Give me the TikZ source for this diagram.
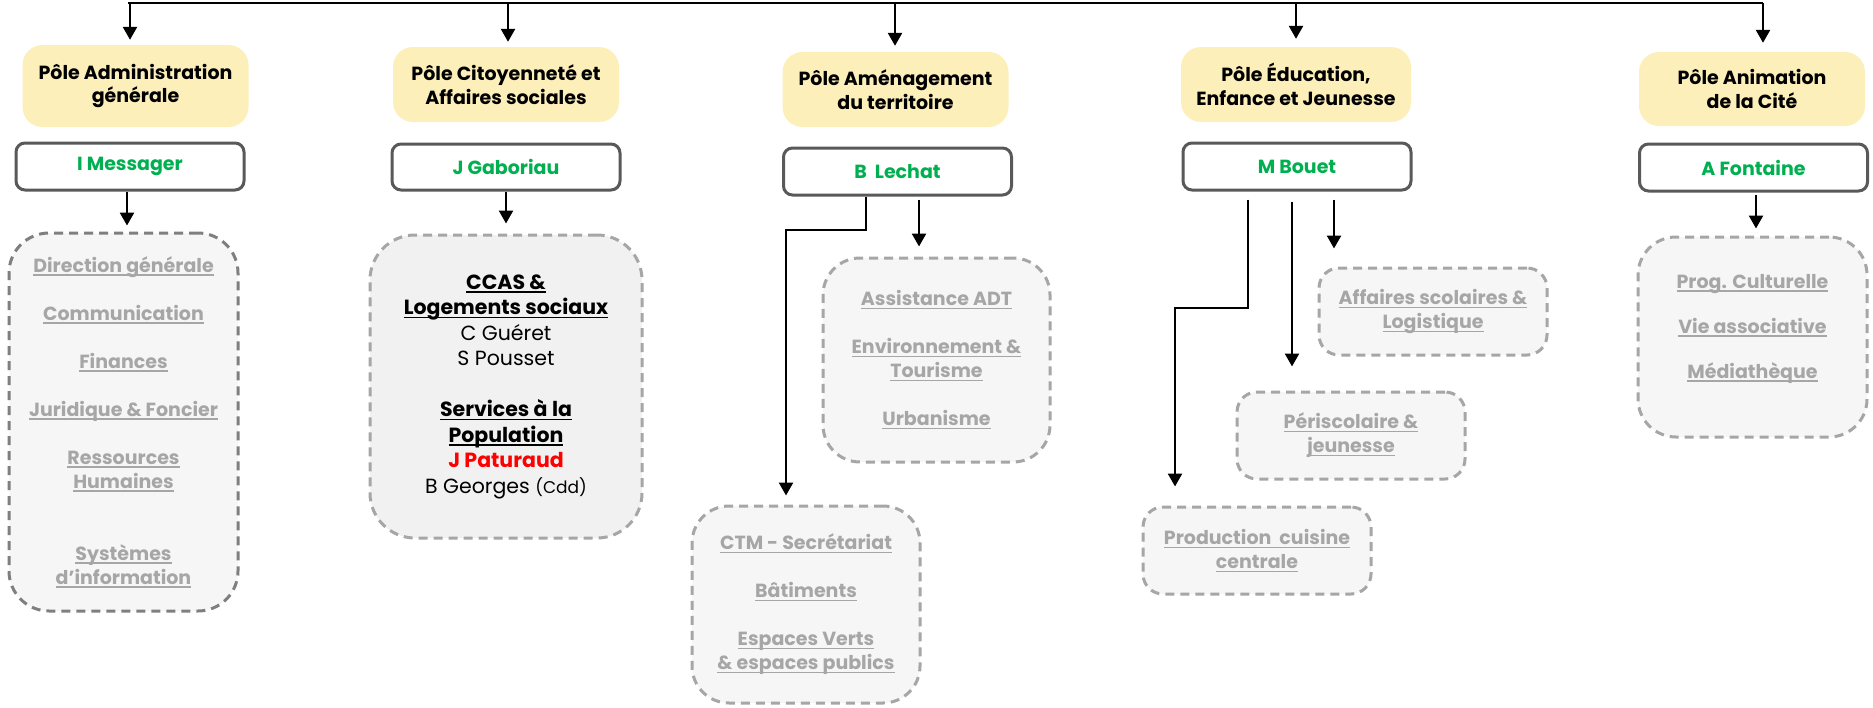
\documentclass[tikz,border=0pt]{standalone}
\usepackage{fontspec}
\setmainfont{Poppins}
\usetikzlibrary{arrows.meta}
\definecolor{polefill}{HTML}{FCEFBA}
\definecolor{nameborder}{HTML}{595959}
\definecolor{nmgreen}{HTML}{00B050}
\definecolor{itemgray}{HTML}{A6A6A6}
\definecolor{boxfill}{HTML}{F6F6F6}
\definecolor{ccasfill}{HTML}{F1F1F1}
\definecolor{dborder}{HTML}{A6A6A6}
\definecolor{dborderdark}{HTML}{7F7F7F}
\definecolor{rname}{HTML}{FF0000}
\newsavebox\ulbox
\newcommand\ulx[1]{\sbox\ulbox{#1}\rlap{\rule[-3.5pt]{\wd\ulbox}{1.3pt}}\usebox\ulbox}
\tikzset{
  polebox/.style={fill=polefill, rounded corners=20pt, minimum width=226pt, align=center,
    font=\fontsize{19}{24}\selectfont\bfseries, inner sep=0pt},
  namebox/.style={draw=nameborder, line width=3pt, fill=white, rounded corners=9pt,
    minimum width=228pt, minimum height=46pt, font=\fontsize{19}{24}\selectfont\bfseries,
    text=nmgreen, inner sep=0pt},
  dbox/.style={draw=dborder, fill=boxfill, line width=3pt, dash pattern=on 9pt off 6pt,
    align=center, font=\fontsize{19}{24}\selectfont\bfseries, text=itemgray, inner sep=0pt},
  arr/.style={-{Triangle[length=13pt,width=14pt]}, line width=2.5pt},
  topline/.style={line width=2.5pt}
}
\begin{document}
\begin{tikzpicture}[x=1pt,y=-1pt]
\useasboundingbox (0,0) rectangle (1873,707);

% pole boxes
\node[polebox, minimum height=82pt] (p1) at (135.5,86) {Pôle Administration\\générale};
\node[polebox, minimum height=75pt] (p2) at (506,84.5) {Pôle Citoyenneté et\\Affaires sociales};
\node[polebox, minimum height=75pt] (p3) at (895.5,89.5) {Pôle Aménagement\\du territoire};
\node[polebox, minimum height=75pt, minimum width=230pt] (p4) at (1296,84.5) {Pôle Éducation,\\Enfance et Jeunesse};
\node[polebox, minimum height=74pt] (p5) at (1752,89) {Pôle Animation\\de la Cité};

% name boxes
\node[namebox, minimum height=47pt] (n1) at (130,166.5) {I Messager};
\node[namebox] (n2) at (506,167) {J Gaboriau};
\node[namebox, minimum height=47pt] (n3) at (897.5,171.5) {B\ \ Lechat};
\node[namebox, minimum height=47pt] (n4) at (1297,166.5) {M Bouet};
\node[namebox, minimum height=47pt] (n5) at (1753.5,167.5) {A Fontaine};

% dashed boxes
\node[dbox, draw=dborderdark, minimum width=229pt, minimum height=378pt, rounded corners=40pt] (d1) at (123.5,422)
  {\ulx{Direction générale}\\[24pt]
   \ulx{Communication}\\[24pt]
   \ulx{Finances}\\[24pt]
   \ulx{Juridique \& Foncier}\\[24pt]
   \ulx{Ressources}\\
   \ulx{Humaines}\\[48pt]
   \ulx{Systèmes}\\
   \ulx{d’information}};
\node[dbox, fill=ccasfill, text=black, font=\fontsize{20.5}{25.5}\selectfont, minimum width=272pt, minimum height=303pt, rounded corners=45pt] (d2) at (506,386.5)
  {{\bfseries\ulx{CCAS \&}}\\
   {\bfseries\ulx{Logements sociaux}}\\
   C Guéret\\
   S Pousset\\[25.5pt]
   {\bfseries\ulx{Services à la}}\\
   {\bfseries\ulx{Population}}\\
   {\bfseries\color{rname}J Paturaud}\\
   B Georges {\fontsize{17}{20}\selectfont(Cdd)}};
\node[dbox, minimum width=227pt, minimum height=204pt, rounded corners=37pt] (d3a) at (936.5,360)
  {\ulx{Assistance ADT}\\[24pt]
   \ulx{Environnement \&}\\
   \ulx{Tourisme}\\[24pt]
   \ulx{Urbanisme}};
\node[dbox, minimum width=228pt, minimum height=197pt, rounded corners=37pt] (d3b) at (806,604.5)
  {\ulx{CTM - Secrétariat}\\[24pt]
   \ulx{Bâtiments}\\[24pt]
   \ulx{Espaces Verts}\\
   \ulx{\& espaces publics}};
\node[dbox, minimum width=228pt, minimum height=87pt, rounded corners=20pt] (d4a) at (1433,311.5)
  {\ulx{Affaires scolaires \&}\\
   \ulx{Logistique}};
\node[dbox, minimum width=228pt, minimum height=87pt, rounded corners=20pt] (d4b) at (1351,435.5)
  {\ulx{Périscolaire \&}\\
   \ulx{jeunesse}};
\node[dbox, minimum width=228pt, minimum height=87pt, rounded corners=20pt] (d4c) at (1257,550.5)
  {\ulx{Production\ \ cuisine}\\
   \ulx{centrale}};
\node[dbox, minimum width=229pt, minimum height=200pt, rounded corners=38pt] (d5) at (1752.5,337)
  {\ulx{Prog. Culturelle}\\[21pt]
   \ulx{Vie associative}\\[21pt]
   \ulx{Médiathèque}\\[-2pt]\mbox{}};

% top distribution line
\coordinate (tl) at (128,3);
\coordinate (t1) at (130,3);
\coordinate (t2) at (508,3);
\coordinate (t3) at (895,3);
\coordinate (t4) at (1296,3);
\coordinate (t5) at (1763,3);
\draw[topline] (tl) -- (t5);
\draw[arr, shorten >=5pt] (t1) -- (t1 |- p1.north);
\draw[arr, shorten >=5pt] (t2) -- (t2 |- p2.north);
\draw[arr, shorten >=6pt] (t3) -- (t3 |- p3.north);
\draw[arr, shorten >=8pt] (t4) -- (t4 |- p4.north);
\draw[arr, shorten >=9pt] (t5) -- (t5 |- p5.north);

% name -> services
\coordinate (a1) at (127,0);
\coordinate (a2) at (506,0);
\coordinate (a3) at (919,0);
\coordinate (j3) at (866,230);
\coordinate (k3) at (786,0);
\coordinate (a4a) at (1334,0);
\coordinate (a4b) at (1292,0);
\coordinate (j4) at (1248,308);
\coordinate (k4) at (1175,0);
\coordinate (a5) at (1756,0);
\draw[arr, shorten >=6pt] (n1.south -| a1) -- (a1 |- d1.north);
\draw[arr, shorten >=10pt] (n2.south -| a2) -- (a2 |- d2.north);
\draw[arr, shorten <=3pt, shorten >=10pt] (n3.south -| a3) -- (a3 |- d3a.north);
\draw[arr, shorten >=9pt] (n3.south -| j3) -- (j3) -| (k3 |- d3b.north);
\draw[arr, shorten <=8pt, shorten >=18pt] (n4.south -| a4a) -- (a4a |- d4a.north);
\draw[arr, shorten <=10pt, shorten >=24pt] (n4.south -| a4b) -- (a4b |- d4b.north);
\draw[arr, shorten <=8pt, shorten >=19pt] (n4.south -| j4) -- (j4) -| (k4 |- d4c.north);
\draw[arr, shorten <=2pt, shorten >=7pt] (n5.south -| a5) -- (a5 |- d5.north);
\end{tikzpicture}
\end{document}
